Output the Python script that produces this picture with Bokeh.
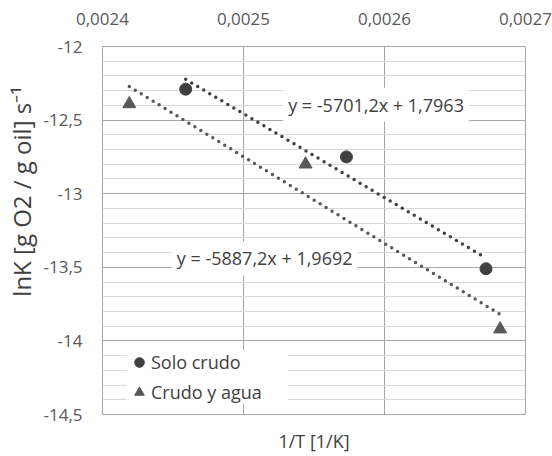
import math
from bokeh.plotting import figure
from bokeh.models import (Range1d, LinearAxis, FixedTicker, CustomJSTickFormatter,
                          Label, Legend, LegendItem, ColumnDataSource, Title)
from bokeh.embed import file_html
from bokeh.resources import INLINE

# ---- data ----
solo_x = [0.002459, 0.002573, 0.002672]
solo_y = [-12.29, -12.75, -13.51]
agua_x = [0.002419, 0.002544, 0.002682]
agua_y = [-12.39, -12.80, -13.92]
series_names = ["Solo crudo", "Crudo y agua"]
slopes = [-5701.2, -5887.2]
intercepts = [1.7963, 1.9692]
x_ticks = [0.0024, 0.0025, 0.0026, 0.0027]
y_ticks = [-14.5, -14.0, -13.5, -13.0, -12.5, -12.0]
y_minor = [round(-14.5 + 0.1 * i, 1) for i in range(26)]

FONT = "Open Sans"
TXT = "#404040"
TICK = "#595959"

p = figure(width=552, height=456, x_range=Range1d(0.0024, 0.0027),
           y_range=Range1d(-14.5, -12.0), output_backend="svg",
           toolbar_location=None, x_axis_location="above",
           min_border_left=99, min_border_right=27, min_border_top=46,
           min_border_bottom=42)
p.outline_line_color = "#a6a6a6"
p.background_fill_color = "white"

top = p.above[0]
top.ticker = FixedTicker(ticks=x_ticks)
top.formatter = CustomJSTickFormatter(code="return tick.toFixed(4).replace('.', ',');")
top.major_label_text_font = FONT
top.major_label_text_font_size = "17px"
top.major_label_text_color = TICK
top.major_label_standoff = 16
top.axis_line_color = None
top.major_tick_line_color = None
top.minor_tick_line_color = None

left = p.left[0]
left.ticker = FixedTicker(ticks=y_ticks, minor_ticks=y_minor)
left.formatter = CustomJSTickFormatter(
    code="return (Math.round(tick*10)/10).toString().replace('.', ',');")
left.major_label_text_font = FONT
left.major_label_text_font_size = "17px"
left.major_label_text_color = TICK
left.major_label_standoff = 14
left.axis_line_color = None
left.major_tick_line_color = None
left.minor_tick_line_color = None

bottom = LinearAxis(ticker=FixedTicker(ticks=[]), axis_label="1/T [1/K]")
bottom.axis_label_text_font = FONT
bottom.axis_label_text_font_size = "18px"
bottom.axis_label_text_font_style = "normal"
bottom.axis_label_text_color = TXT
bottom.axis_label_standoff = 14
bottom.axis_line_color = None
bottom.major_tick_line_color = None
bottom.minor_tick_line_color = None
p.add_layout(bottom, "below")

# y axis title (placed toward the top, as in the reference)
ytitle = Title(text="lnK [g O2 / g oil] s\u207b\u00b9", align="right", offset=40,
               text_font=FONT, text_font_size="24px", text_font_style="normal",
               text_color=TXT, standoff=5)
p.add_layout(ytitle, "left")

p.xgrid.grid_line_color = "#a6a6a6"
p.xgrid.ticker = FixedTicker(ticks=x_ticks)
p.ygrid.grid_line_color = "#a6a6a6"
p.ygrid.minor_grid_line_color = "#d9d9d9"
p.ygrid.minor_grid_line_width = 1.2

# trendlines from fitted equations, between min and max x of each series
xs_all = [solo_x, agua_x]
line_colors = ["#404040", "#595959"]
for xs, m, b, c in zip(xs_all, slopes, intercepts, line_colors):
    x0, x1 = min(xs), max(xs)
    p.line([x0, x1], [m * x0 + b, m * x1 + b], line_color=c, line_width=3.5,
           line_dash="0 7", line_cap="round")

src1 = ColumnDataSource(dict(x=solo_x, y=solo_y))
src2 = ColumnDataSource(dict(x=agua_x, y=agua_y))
r1 = p.scatter("x", "y", source=src1, marker="circle", size=12,
               fill_color="#404040", line_color="#404040")
r2 = p.scatter("x", "y", source=src2, marker="triangle", size=13,
               fill_color="#595959", line_color="#595959")

# equation labels
eq_pos = [(0.002594, -12.395), (0.002515, -13.44)]
for (ex, ey), m, b in zip(eq_pos, slopes, intercepts):
    txt = ("y = " + f"{m:.1f}" + "x + " + f"{b:.4f}").replace(".", ",")
    p.add_layout(Label(x=ex, y=ey, text=txt, text_align="center",
                       text_baseline="middle", text_font=FONT,
                       text_font_size="18px", text_color=TXT,
                       background_fill_color="white", padding=5))

legend = Legend(items=[LegendItem(label=series_names[0], renderers=[r1]),
                       LegendItem(label=series_names[1], renderers=[r2])],
                location=(25, 10), padding=4, glyph_width=24, glyph_height=24,
                label_height=24, spacing=6, label_standoff=0, label_width=137,
                background_fill_color="white", background_fill_alpha=1.0,
                border_line_color=None, label_text_font=FONT,
                label_text_font_size="18px", label_text_color=TXT)
p.add_layout(legend, "center")

open("out.html", "w").write(file_html(p, INLINE))
